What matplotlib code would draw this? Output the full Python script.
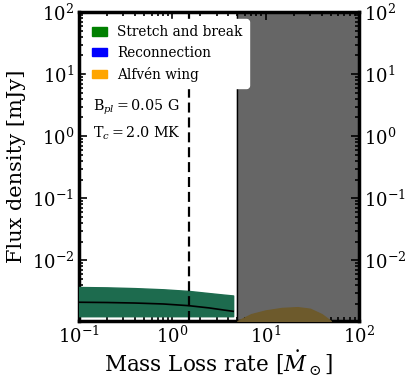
import numpy as np
import matplotlib
matplotlib.use('Agg')
from matplotlib import pyplot as plt
from matplotlib.patches import Patch

plt.rcParams['font.family'] = 'DejaVu Serif'
plt.rcParams['mathtext.fontset'] = 'dejavuserif'

# Stretch and break band (mass loss rate, flux)
mdot = [0.1, 0.2, 0.4, 0.8, 1.5, 2.5, 3.5, 4.5]
sb_upper = [3.7e-3, 3.65e-3, 3.55e-3, 3.4e-3, 3.2e-3, 2.95e-3, 2.8e-3, 2.7e-3]
sb_lower = [1.25e-3, 1.25e-3, 1.25e-3, 1.25e-3, 1.25e-3, 1.25e-3, 1.25e-3, 1.25e-3]
sb_mid = [2.1e-3, 2.08e-3, 2.04e-3, 1.97e-3, 1.85e-3, 1.7e-3, 1.58e-3, 1.5e-3]

# Alfven wing bump (inside forbidden region)
aw_mdot = [5.0, 7.0, 10.0, 15.0, 22.0, 30.0, 40.0, 50.0]
aw_upper = [1.05e-3, 1.35e-3, 1.55e-3, 1.7e-3, 1.75e-3, 1.65e-3, 1.35e-3, 1.05e-3]

mdot_dash = 1.5
mdot_forbid = 5.0

fig = plt.figure(figsize=(4.11, 3.78), dpi=100)
ax = fig.add_axes([0.192, 0.151, 0.681, 0.817])

ax.axvspan(mdot_forbid, 100, color='#666666', zorder=1)
ax.axvline(mdot_forbid, color='k', lw=1.0, zorder=2)
ax.fill_between(mdot, sb_lower, sb_upper, color='#1d6b4e', zorder=3)
ax.plot(mdot, sb_mid, color='k', lw=1.2, zorder=4)
ax.fill_between(aw_mdot, 1e-3, aw_upper, color='#6d5a2c', zorder=3)
ax.axvline(mdot_dash, color='k', ls='--', lw=1.6, dashes=(4.5, 2.2), zorder=4)

ax.set_xscale('log')
ax.set_yscale('log')
ax.set_xlim(0.1, 100)
ax.set_ylim(1.05e-3, 100)
ax.set_xticks([0.1, 1, 10, 100])
ax.set_yticks([1e-2, 1e-1, 1, 10, 100])
ax.tick_params(which='both', direction='in', top=True, right=True, labelright=True,
               labelsize=13, width=1.2)
ax.tick_params(which='major', length=6)
ax.tick_params(which='minor', length=3)
for s in ax.spines.values():
    s.set_linewidth(2.5)

ax.set_xlabel(r'Mass Loss rate [$\dot{M}_\odot$]', fontsize=15.5, labelpad=1)
ax.set_ylabel('Flux density [mJy]', fontsize=15)

handles = [Patch(color='green', label='Stretch and break'),
           Patch(color='blue', label='Reconnection'),
           Patch(color='orange', label='Alfvén wing')]
leg = ax.legend(handles=handles, loc='upper left', fontsize=9.8, frameon=True,
                framealpha=1, edgecolor='white', fancybox=True,
                handlelength=1.1, handleheight=0.6, borderaxespad=0.5,
                borderpad=0.45, labelspacing=0.5, handletextpad=0.75)
leg.set_zorder(10)

ax.text(0.142, 2.6, r'B$_{pl}=0.05$ G', fontsize=10.3, zorder=5)
ax.text(0.142, 0.96, r'T$_{c}=2.0$ MK', fontsize=10.3, zorder=5)

fig.savefig('out.png', dpi=100)
